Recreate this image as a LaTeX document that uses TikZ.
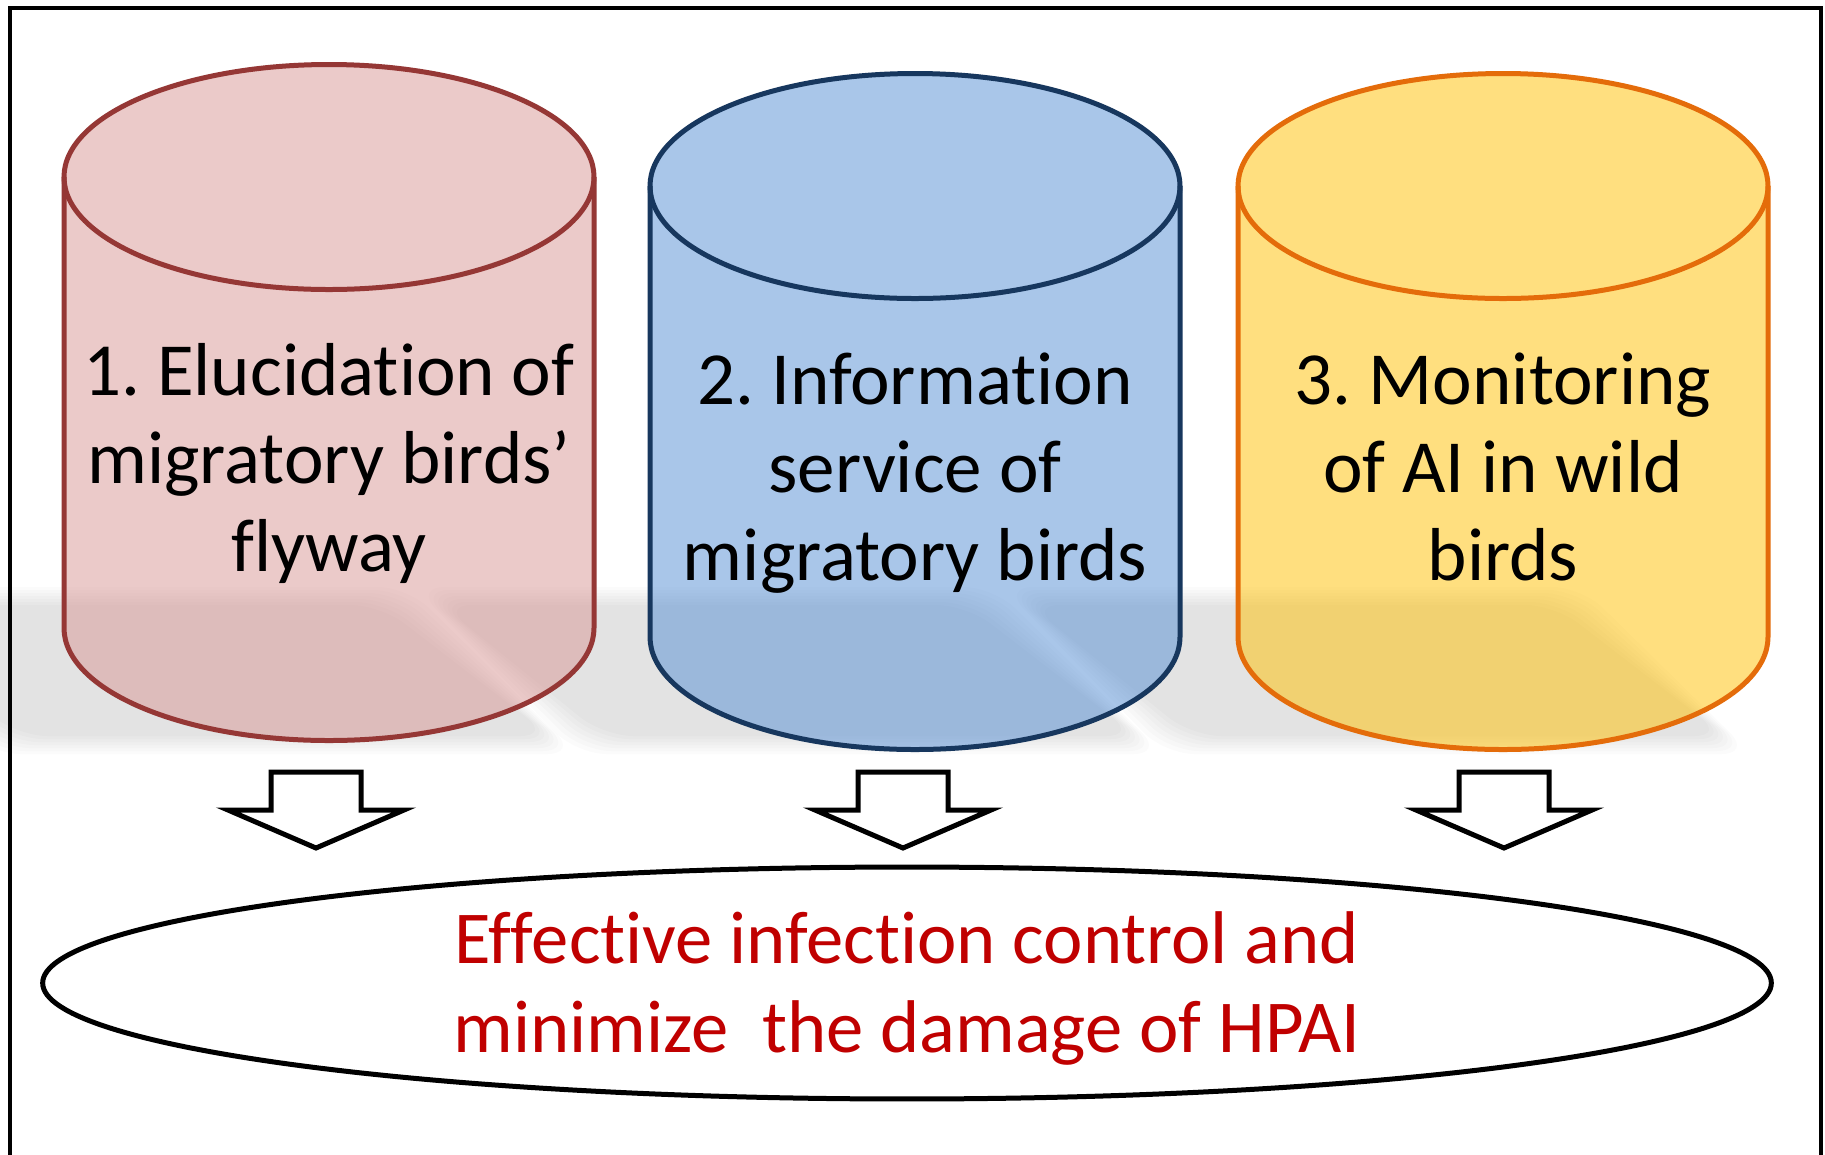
\documentclass[tikz,border=0pt]{standalone}
\usepackage{fontspec}
\setmainfont{Carlito}[Ligatures={TeX,NoCommon}]
\usepackage{tikz}
\usetikzlibrary{shapes.geometric}
\frenchspacing

\definecolor{flyfill}{HTML}{D99694}
\definecolor{flyline}{HTML}{953735}
\definecolor{infofill}{HTML}{558ED5}
\definecolor{infoline}{HTML}{17375E}
\definecolor{monfill}{HTML}{FFC000}
\definecolor{monline}{HTML}{E46C0A}
\definecolor{goalred}{HTML}{C00000}

\begin{document}
\begin{tikzpicture}[x=0.02cm, y=-0.02cm,
    every node/.style={inner sep=0pt},
    cyltext/.style={align=center, font=\fontsize{42.7}{50}\selectfont},
    goaltext/.style={align=center, text=goalred, font=\fontsize{42.5}{51}\selectfont},
    goalshape/.style={ellipse, draw=black, fill=white, line width=0.1cm, minimum width=34.58cm, minimum height=4.64cm},
    blockarrow/.style={draw=black, fill=white, line width=0.1cm, miter limit=10},
    shadowpart/.style={fill=black, opacity=0.016, rounded corners=0.6cm}]
    \useasboundingbox (0,0) rectangle (1825,1154);
    \clip (0,0) rectangle (1825,1154);
    \fill[white] (0,0) rectangle (1825,1154);
    \foreach \cx in {329, 915, 1503}
      \foreach \i in {-9,-6,...,9}
        \fill[shadowpart] ({\cx-487+1.5*(\i)}, {596+(\i)}) -- ({\cx+65-1.5*(\i)}, {596+(\i)})
          -- ({\cx+235-1.5*(\i)}, {745-(\i)}) -- ({\cx-325+1.5*(\i)}, {745-(\i)}) -- cycle;
    \foreach \cx/\ty/\fc/\lc/\nm/\txt in {
        329/177/flyfill/flyline/flyway/{1. Elucidation of\\ migratory birds’\\ flyway},
        915/186/infofill/infoline/info/{2. Information\\ service of\\ migratory birds},
        1503/186/monfill/monline/monitor/{3. Monitoring\\ of AI in wild\\ birds}} {
      \fill[\fc, fill opacity=0.5] (\cx-265, \ty) -- (\cx-265, \ty+451)
        arc[start angle=180, end angle=0, x radius=265, y radius=112.5]
        -- (\cx+265, \ty)
        arc[start angle=0, end angle=-180, x radius=265, y radius=112.5] -- cycle;
      \draw[\lc, line width=0.1cm] (\cx-265, \ty) -- (\cx-265, \ty+451)
        arc[start angle=180, end angle=0, x radius=265, y radius=112.5]
        -- (\cx+265, \ty);
      \draw[\lc, line width=0.1cm] (\cx, \ty) ellipse [x radius=265, y radius=112.5];
      \node[cyltext] (\nm) at (\cx, \ty+289) {\strut\txt\strut};
    }
    \draw[line width=0.08cm] (10,8) rectangle (1821,1200);
    \foreach \ax in {316, 903, 1504}
      \draw[blockarrow] (\ax-45, 772) -- (\ax+45, 772) -- (\ax+45, 810) -- (\ax+88, 810)
        -- (\ax, 848) -- (\ax-88, 810) -- (\ax-45, 810) -- cycle;
    \node[goalshape] (goal) at (907,983) {};
    \node[goaltext] (goaltext) at (907,990) {\strut Effective infection control and\\ minimize~ the damage of HPAI\strut};
  \end{tikzpicture}
\end{document}
